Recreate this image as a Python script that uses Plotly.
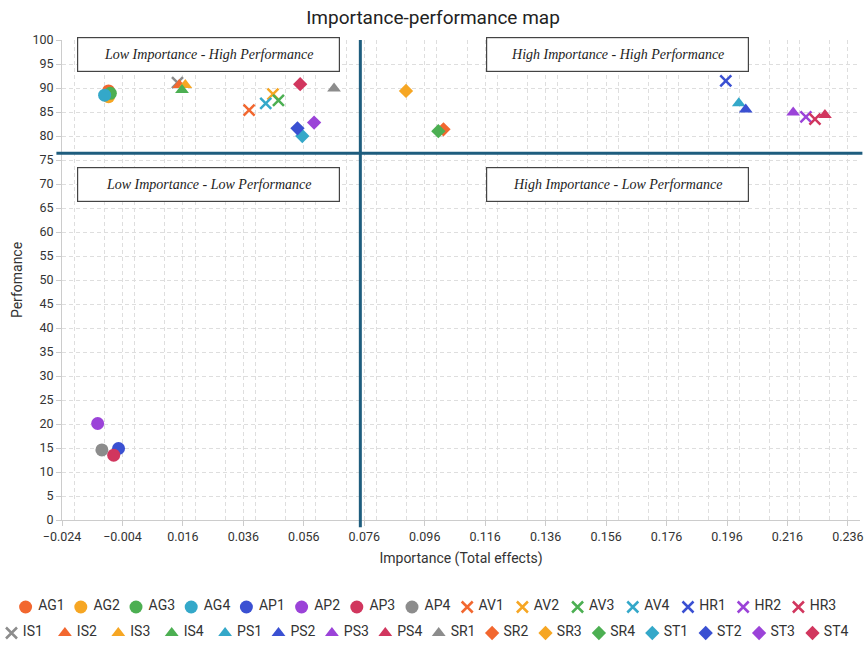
import plotly.graph_objects as go

# ---------------- data ----------------
labels = ["AG1", "AG2", "AG3", "AG4", "AP1", "AP2", "AP3", "AP4",
          "AV1", "AV2", "AV3", "AV4", "HR1", "HR2", "HR3", "IS1",
          "IS2", "IS3", "IS4", "PS1", "PS2", "PS3", "PS4", "SR1",
          "SR2", "SR3", "SR4", "ST1", "ST2", "ST3", "ST4"]
importance = [-0.0086, -0.0086, -0.0080, -0.0099, -0.0053, -0.0122, -0.0069, -0.0108,
              0.0379, 0.0458, 0.0476, 0.0434, 0.1956, 0.2221, 0.2251, 0.0142,
              0.0148, 0.0168, 0.0157, 0.1999, 0.2022, 0.2179, 0.2284, 0.0660,
              0.1022, 0.0898, 0.1005, 0.0555, 0.0539, 0.0594, 0.0548]
performance = [89.4, 88.2, 88.9, 88.5, 14.9, 20.1, 13.5, 14.6,
               85.4, 88.7, 87.4, 86.8, 91.5, 84.0, 83.5, 91.1,
               90.6, 90.6, 89.6, 86.8, 85.5, 84.9, 84.4, 89.9,
               81.4, 89.4, 81.0, 80.0, 81.6, 82.8, 90.8]
mean_importance = 0.0747
mean_performance = 76.4
x_ticks_start, x_ticks_step = -0.024, 0.02

quadrant_texts = ["Low Importance - High Performance", "High Importance - High Performance",
                  "Low Importance - Low Performance", "High Importance - Low Performance"]
quadrant_x = [0.0245, 0.1599, 0.0245, 0.1599]
quadrant_y = [96.9, 96.9, 69.8, 69.8]

# ---------------- layout geometry (pixels) ----------------
W, H = 866, 648
plot_left, plot_right, plot_top, plot_bottom = 62, 860, 40, 520

# ---------------- styles ----------------
palette = ["#F2672F", "#F6A623", "#4CAF52", "#34A8C9", "#3A50D2", "#9B43D8", "#D1365E", "#8C8C8C"]
symbol_groups = ["circle", "x-thin-open", "triangle-up", "diamond"]
symbol_sizes = {"circle": 13, "x-thin-open": 11, "triangle-up": 12, "diamond": 11}


def marker_style(i, scale=1.0):
    sym = symbol_groups[i // 8]
    col = palette[i % 8]
    m = dict(color=col, size=symbol_sizes[sym] * scale, symbol=sym)
    if sym == "x-thin-open":
        m["line"] = dict(color=col, width=2.5)
    else:
        m["line"] = dict(width=0)
    return m


fig = go.Figure()
for i, lab in enumerate(labels):
    fig.add_trace(go.Scatter(x=[importance[i]], y=[performance[i]], mode="markers",
                             name=lab, marker=marker_style(i), showlegend=False))

# ---- legend: two centred rows drawn on a hidden pixel-scaled axis below the plot ----
legend_rows = [list(range(0, 15)), list(range(15, 31))]
legend_row_px = [607, 633]
legend_spacing = [55.2, 53.4]
legend_center_px = 412
legend_domain_top = 0.18
for r, idxs in enumerate(legend_rows):
    n = len(idxs)
    for k, i in enumerate(idxs):
        xp = legend_center_px + (k - (n - 1) / 2) * legend_spacing[r]
        fig.add_trace(go.Scatter(x=[xp], y=[-legend_row_px[r]], xaxis="x2", yaxis="y2",
                                 mode="markers+text", text=["\u00a0" + labels[i]], textposition="middle right",
                                 textfont=dict(size=14, color="#333", family="Roboto"),
                                 marker=marker_style(i, 1.0), cliponaxis=False,
                                 name=labels[i], showlegend=False, hoverinfo="skip"))

line_col = "#1E5D7E"
fig.add_shape(type="line", xref="x", yref="y domain", x0=mean_importance, x1=mean_importance,
              y0=-0.015, y1=1.0, line=dict(color=line_col, width=3), layer="above")
fig.add_shape(type="line", xref="x domain", yref="y", x0=-0.007, x1=1.003,
              y0=mean_performance, y1=mean_performance, line=dict(color=line_col, width=3), layer="above")

for t, qx, qy in zip(quadrant_texts, quadrant_x, quadrant_y):
    fig.add_annotation(x=qx, y=qy, xref="x", yref="y", text="<i>" + t + "</i>", showarrow=False,
                       font=dict(family="Liberation Serif", size=14, color="#222"),
                       width=259, height=31, bordercolor="#444", borderwidth=1.2,
                       bgcolor="white", align="center")

grid_col = "#DEDEDE"
fig.update_layout(
    width=W, height=H,
    margin=dict(l=0, r=0, t=0, b=0),
    paper_bgcolor="white", plot_bgcolor="white",
    font=dict(family="Roboto", color="#333"),
    title=dict(text="Importance-performance map", x=0.5, xref="container", xanchor="center",
               y=1 - 17 / H, yref="container", yanchor="middle",
               font=dict(size=19, color="#222", family="Roboto")),
    showlegend=False,
    xaxis=dict(domain=[plot_left / W, plot_right / W], anchor="y",
               range=[-0.024, 0.24], tick0=x_ticks_start, dtick=x_ticks_step, tickformat=".3f",
               showgrid=True, gridcolor=grid_col, griddash="4px,3px", gridwidth=1,
               minor=dict(dtick=0.01, showgrid=True, gridcolor=grid_col, griddash="4px,3px", gridwidth=1),
               zeroline=False, showline=True, linecolor="#CCCCCC", linewidth=1, automargin=False,
               ticks="outside", ticklen=5, tickcolor="#CCCCCC", tickfont=dict(size=12.5, color="#333"),
               title=dict(text="Importance (Total effects)", font=dict(size=14, color="#333"), standoff=10)),
    yaxis=dict(domain=[1 - plot_bottom / H, 1 - plot_top / H], anchor="x",
               range=[0, 100], dtick=5, showgrid=True, gridcolor=grid_col, griddash="4px,3px", gridwidth=1,
               zeroline=False, showline=True, linecolor="#CCCCCC", linewidth=1, automargin=False,
               ticks="outside", ticklen=5, tickcolor="#CCCCCC", tickfont=dict(size=12.5, color="#333"),
               title=dict(text="Perfomance", font=dict(size=14, color="#333"), standoff=6)),
    xaxis2=dict(domain=[0, 1], anchor="y2", range=[0, W], visible=False, fixedrange=True),
    yaxis2=dict(domain=[0, legend_domain_top], anchor="x2", range=[-H, -H * (1 - legend_domain_top)],
                visible=False, fixedrange=True),
)

page_css = ("document.documentElement.style.overflow='hidden';"
            "document.body.style.overflow='hidden';"
            "document.body.style.margin='0';")
fig.write_html("out.html", post_script=page_css, config={"displayModeBar": False})
